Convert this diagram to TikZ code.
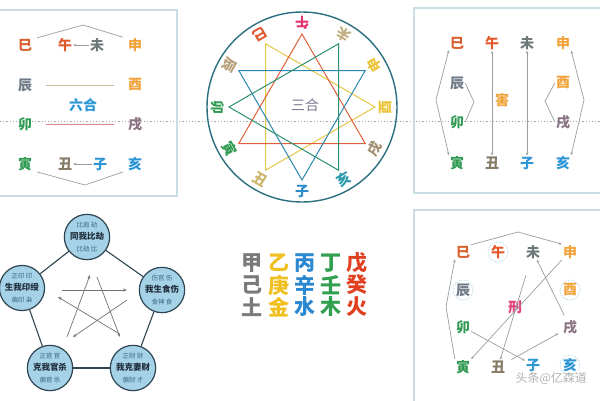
\documentclass[tikz,border=0pt]{standalone}
\usepackage{fontspec}
\newfontfamily\cjk{Noto Sans CJK SC}
\usetikzlibrary{arrows.meta}
\definecolor{cSi}{HTML}{D9602F}
\definecolor{cWu}{HTML}{E2582A}
\definecolor{cWei}{HTML}{6F7878}
\definecolor{cShen}{HTML}{F2A43C}
\definecolor{cChen}{HTML}{6E7A88}
\definecolor{cGreen}{HTML}{2F9A52}
\definecolor{cXu}{HTML}{8A7382}
\definecolor{cChou}{HTML}{857A66}
\definecolor{cBlue}{HTML}{2C96D6}
\definecolor{cPanel}{HTML}{C9DDE5}
\definecolor{cLine}{HTML}{9A9E9E}
\definecolor{cTan}{HTML}{C9B89E}
\definecolor{cPink}{HTML}{D68A8A}
\definecolor{cCircle}{HTML}{2B6E80}
\definecolor{kWu}{HTML}{E2336E}
\definecolor{kSi}{HTML}{E0562E}
\definecolor{kChen}{HTML}{B7A078}
\definecolor{kChou}{HTML}{CDB56A}
\definecolor{kZi}{HTML}{2C8CCF}
\definecolor{kHai}{HTML}{2B9AAA}
\definecolor{kXu}{HTML}{A39075}
\definecolor{kYou}{HTML}{EBC43A}
\definecolor{kWei}{HTML}{C2B182}
\definecolor{tRed}{HTML}{E0603A}
\definecolor{tYel}{HTML}{E8C848}
\definecolor{tBlu}{HTML}{2A88B0}
\definecolor{tGrn}{HTML}{2A9070}
\definecolor{cSanhe}{HTML}{7A7890}
\definecolor{cXing}{HTML}{E2407C}
\definecolor{cSelf}{HTML}{A9D3E6}
\definecolor{pFill}{HTML}{A6D2E8}
\definecolor{pEdge}{HTML}{2E4652}
\definecolor{pSmall}{HTML}{3A6A80}
\definecolor{pBig}{HTML}{1E2E3A}
\definecolor{mGray}{HTML}{7A7A7A}
\definecolor{mYel}{HTML}{F0C020}
\definecolor{mBlu}{HTML}{2A88D0}
\definecolor{mGrn}{HTML}{30A050}
\definecolor{mRed}{HTML}{E04020}
\tikzset{
  ch/.style={font=\cjk\fontsize{14}{14}\selectfont\bfseries, inner sep=1pt},
  big/.style={font=\cjk\fontsize{21}{21}\selectfont\bfseries, inner sep=0pt},
  panel/.style={draw=cPanel, line width=1.2pt},
  gline/.style={draw=cLine, line width=0.7pt},
  tip/.style={-{Stealth[length=3pt,width=2.6pt]}},
  tipboth/.style={{Stealth[length=3pt,width=2.6pt]}-{Stealth[length=3pt,width=2.6pt]}},
  tri/.style={line width=1pt},
  selfc/.style={draw=cSelf, line width=0.8pt, dash pattern=on 1pt off 1.5pt},
  pnode/.style={circle, fill=pFill, draw=pEdge, line width=1.2pt, minimum size=42pt, inner sep=0pt, align=center, font=\cjk},
  pedge/.style={draw=pEdge, line width=1.1pt},
  parrow/.style={draw=black!55, line width=0.7pt, -{Stealth[length=4pt,width=3pt]}},
}
\newcommand{\pt}[3]{{\fontsize{6.5}{7.5}\selectfont\color{pSmall}#1}\\{\fontsize{8.5}{10}\selectfont\bfseries\color{pBig}#2}\\{\fontsize{6.5}{7.5}\selectfont\color{pSmall}#3}}
\begin{document}
\begin{tikzpicture}[x=1pt,y=-1pt]
\useasboundingbox (0,0) rectangle (600,400);
\fill[white] (0,0) rectangle (600,400);
% dotted line
\draw[draw=black!35, line width=1pt, dash pattern=on 1.2pt off 2pt] (0,121) -- (600,121);
% panels
\draw[panel] (-5,10) -- (177,10) -- (177,196) -- (-5,196);
\draw[panel] (610,8) -- (414,8) -- (414,193) -- (610,193);
\draw[panel] (610,210) -- (414,210) -- (414,410);

% ---------- top-left: liuhe
\node[ch,text=cSi] (tlSi) at (25,45) {巳};
\node[ch,text=cWu] (tlWu) at (65,45) {午};
\node[ch,text=cWei] (tlWei) at (97,45) {未};
\node[ch,text=cShen] (tlShen) at (135,45) {申};
\node[ch,text=cChen] (tlChen) at (25,85) {辰};
\node[ch,text=cShen] (tlYou) at (135,85) {酉};
\node[ch,text=cBlue] (tlLiuhe) at (83,105) {六合};
\node[ch,text=cGreen] (tlMao) at (25,124) {卯};
\node[ch,text=cXu] (tlXu) at (135,124) {戌};
\node[ch,text=cGreen] (tlYin) at (25,164) {寅};
\node[ch,text=cChou] (tlChou) at (65,164) {丑};
\node[ch,text=cBlue] (tlZi) at (100,164) {子};
\node[ch,text=cBlue] (tlHai) at (135,164) {亥};
\coordinate (tlTop) at (83,25);
\coordinate (tlBot) at (85,185);
\draw[gline] ([xshift=4pt]tlSi.north east) -- (tlTop) -- ([xshift=-4pt]tlShen.north west);
\draw[gline] ([xshift=4pt]tlYin.south east) -- (tlBot) -- ([xshift=-4pt]tlHai.south west);
\draw[gline,tip] (tlWei) -- (tlWu);
\draw[gline,tip] (tlZi) -- (tlChou);
\draw[draw=cTan, line width=0.8pt, shorten <=13pt, shorten >=13pt] (tlChen) -- (tlYou);
\draw[draw=cPink, line width=0.8pt, shorten <=13pt, shorten >=13pt] (tlMao) -- (tlXu);

% ---------- circle: sanhe
\begin{scope}[shift={(302,107)}, yscale=-1]
\draw[draw=cCircle, line width=1.4pt] (0,0) circle[radius=95];
\foreach \a in {90,60,30,0,-30,-60,-90,-120,-150,180,150,120}
  \coordinate (cv\a) at (\a:73);
\draw[tri, draw=tYel] (cv120) -- (cv0) -- (cv-120) -- cycle;
\draw[tri, draw=tRed] (cv90) -- (cv-150) -- (cv-30) -- cycle;
\draw[tri, draw=tBlu] (cv150) -- (cv30) -- (cv-90) -- cycle;
\draw[tri, draw=tGrn] (cv180) -- (cv60) -- (cv-60) -- cycle;
\node[ch, text=kWu,   rotate=180] (cirWu)   at (90:84)  {午};
\node[ch, text=kWei,  rotate=150] (cirWei)  at (60:84)  {未};
\node[ch, text=kYou,  rotate=120] (cirShen) at (30:84)  {申};
\node[ch, text=kYou,  rotate=90]  (cirYou)  at (0:84)   {酉};
\node[ch, text=kXu,   rotate=60]  (cirXu)   at (-30:84) {戌};
\node[ch, text=kHai,  rotate=30]  (cirHai)  at (-60:84) {亥};
\node[ch, text=kZi,   rotate=0]   (cirZi)   at (-90:84) {子};
\node[ch, text=kChou, rotate=-30] (cirChou) at (-120:84) {丑};
\node[ch, text=cGreen,rotate=-60] (cirYin)  at (-150:84) {寅};
\node[ch, text=cGreen,rotate=-90] (cirMao)  at (180:84) {卯};
\node[ch, text=kChen, rotate=240] (cirChen) at (150:84) {辰};
\node[ch, text=kSi,   rotate=210] (cirSi)   at (120:84) {巳};
\node[font=\cjk\fontsize{14}{14}\selectfont, text=cSanhe] (cirSanhe) at (3,2) {三合};
\end{scope}

% ---------- top-right: hai
\node[ch,text=cSi] (trSi) at (457,43) {巳};
\node[ch,text=cWu] (trWu) at (492,43) {午};
\node[ch,text=cWei] (trWei) at (527,43) {未};
\node[ch,text=cShen] (trShen) at (563,43) {申};
\node[ch,text=cChen] (trChen) at (457,83) {辰};
\node[ch,text=cShen] (trYou) at (563,83) {酉};
\node[ch,text=cShen] (trHai0) at (502,100) {害};
\node[ch,text=cGreen] (trMao) at (457,122) {卯};
\node[ch,text=cXu] (trXu) at (563,122) {戌};
\node[ch,text=cGreen] (trYin) at (457,163) {寅};
\node[ch,text=cChou] (trChou) at (492,163) {丑};
\node[ch,text=cBlue] (trZi) at (527,163) {子};
\node[ch,text=cBlue] (trHai) at (563,163) {亥};
\draw[gline,tipboth] (trWu) -- (trChou);
\draw[gline,tipboth] (trWei) -- (trZi);
\coordinate (trL1) at (436,100);
\coordinate (trL2) at (474,102);
\coordinate (trR2) at (545,101);
\coordinate (trR1) at (584,100);
\draw[gline,tipboth] (trSi.south west) -- (trL1) -- (trYin.north west);
\draw[gline] (trChen.east) -- (trL2) -- (trMao.east);
\draw[gline] (trYou.west) -- (trR2) -- (trXu.west);
\draw[gline,tipboth] (trShen.south east) -- (trR1) -- (trHai.north east);

% ---------- bottom-right: xing
\node[ch,text=cSi] (brSi) at (463,252) {巳};
\node[ch,text=cWu] (brWu) at (498,252) {午};
\node[ch,text=cWei] (brWei) at (533,252) {未};
\node[ch,text=cShen] (brShen) at (570,252) {申};
\node[ch,text=cChen] (brChen) at (463,290) {辰};
\node[ch,text=cShen] (brYou) at (570,290) {酉};
\node[ch,text=cXing] (brXing) at (515,307) {刑};
\node[ch,text=cGreen] (brMao) at (463,327) {卯};
\node[ch,text=cXu] (brXu) at (570,327) {戌};
\node[ch,text=cGreen] (brYin) at (463,367) {寅};
\node[ch,text=cChou] (brChou) at (498,367) {丑};
\node[ch,text=cBlue] (brZi) at (533,365) {子};
\node[ch,text=cBlue] (brHai) at (570,365) {亥};
\draw[selfc] (brWu) circle[radius=10];
\draw[selfc] (brChen) circle[radius=10];
\draw[selfc] (brYou) circle[radius=10];
\draw[selfc] (brHai) circle[radius=10];
\coordinate (brTop) at (518,232);
\coordinate (brLeft) at (446,307);
\draw[gline,tip] (brSi.north east) -- (brTop) -- (brShen.north west);
\draw[gline,tip] (brYin.north west) -- (brLeft) -- (brSi.south west);
\draw[gline,tip] (brShen.south west) -- (brYin.north east);
\draw[gline,tip, shorten <=16pt] (brWei) -- (brChou);
\draw[gline,tip, shorten <=6pt, shorten >=4pt] (brChou) -- (brXu);
\draw[gline,tip, shorten <=4pt] (brXu) -- (brWei);
\draw[gline,tip] (brMao) -- (brZi);
\node[font=\cjk\fontsize{12}{12}\selectfont, text=black!30, anchor=west] (wm) at (512,378) {头条@亿森道};

% ---------- bottom-left: pentagon
\node[pnode] (pTop) at (87,237) {\pt{比肩 劫}{同我比劫}{比劫 比}};
\node[pnode] (pLeft) at (22,288) {\pt{正印 印}{生我印绶}{偏印 枭}};
\node[pnode] (pRight) at (162,290) {\pt{伤官 伤}{我生食伤}{食神 食}};
\node[pnode] (pBL) at (50,368) {\pt{正官 官}{克我官杀}{偏官 杀}};
\node[pnode] (pBR) at (133,368) {\pt{正财 财}{我克妻财}{偏财 才}};
\draw[pedge] (pTop) -- (pRight);
\draw[pedge] (pRight) -- (pBR);
\draw[pedge] (pBR) -- (pBL);
\draw[pedge] (pBL) -- (pLeft);
\draw[pedge] (pLeft) -- (pTop);
\coordinate (a1s) at (62,290); \coordinate (a1e) at (127,290);
\coordinate (a2s) at (67,337); \coordinate (a2e) at (90,275);
\coordinate (a3s) at (97,277); \coordinate (a3e) at (120,337);
\coordinate (a4s) at (127,300); \coordinate (a4e) at (73,337);
\coordinate (a5s) at (118,333); \coordinate (a5e) at (58,297);
\draw[parrow] (a1s) -- (a1e);
\draw[parrow] (a2s) -- (a2e);
\draw[parrow] (a3s) -- (a3e);
\draw[parrow] (a4s) -- (a4e);
\draw[parrow] (a5s) -- (a5e);

% ---------- middle: tiangan wuhe
\node[big,text=mGray] (m11) at (252,263) {甲};
\node[big,text=mYel]  (m12) at (279,263) {乙};
\node[big,text=mBlu]  (m13) at (305,263) {丙};
\node[big,text=mGrn]  (m14) at (331,263) {丁};
\node[big,text=mRed]  (m15) at (357,263) {戊};
\node[big,text=mGray] (m21) at (252,285) {己};
\node[big,text=mYel]  (m22) at (279,285) {庚};
\node[big,text=mBlu]  (m23) at (305,285) {辛};
\node[big,text=mGrn]  (m24) at (331,285) {壬};
\node[big,text=mRed]  (m25) at (357,285) {癸};
\node[big,text=mGray] (m31) at (252,307) {土};
\node[big,text=mYel]  (m32) at (279,307) {金};
\node[big,text=mBlu]  (m33) at (305,307) {水};
\node[big,text=mGrn]  (m34) at (331,307) {木};
\node[big,text=mRed]  (m35) at (357,307) {火};
\end{tikzpicture}
\end{document}
